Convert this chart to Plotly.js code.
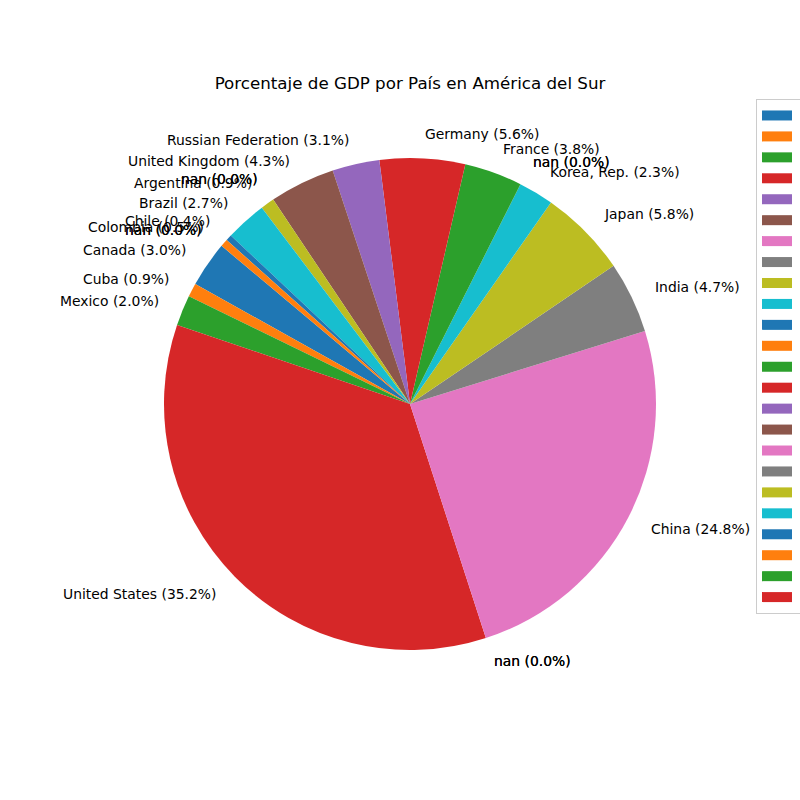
<!DOCTYPE html>
<html>
<head>
<meta charset="utf-8">
<script src="https://cdn.plot.ly/plotly-3.0.1.min.js"></script>
<style>html,body{margin:0;padding:0;background:#fff;}</style>
</head>
<body>
<div id="chart" style="width:800px;height:800px;"></div>
<script>
// Data (order as drawn, counterclockwise from start angle 140°)
const countries = ["Canada", "Cuba", "Mexico", "United States", "nan", "nan",
  "China", "India", "Japan", "Korea, Rep.", "nan", "nan",
  "France", "Germany", "Russian Federation", "United Kingdom", "nan", "nan",
  "Argentina", "Brazil", "Chile", "Colombia", "nan", "nan"];
const gdpShare = [3.0, 0.9, 2.0, 35.2, 0.0, 0.0,
  24.8, 4.7, 5.8, 2.3, 0.0, 0.0,
  3.8, 5.6, 3.1, 4.3, 0.0, 0.0,
  0.9, 2.7, 0.4, 0.5, 0.0, 0.0];

// Style / layout constants
const palette = ["#1f77b4", "#ff7f0e", "#2ca02c", "#d62728", "#9467bd",
  "#8c564b", "#e377c2", "#7f7f7f", "#bcbd22", "#17becf"];
const W = 800, H = 800;
const cx = 410, cy = 404, R = 246;
const startAngle = 140; // degrees, math convention
const FONT = "DejaVu Sans, sans-serif";

const total = gdpShare.reduce((a, b) => a + b, 0);
const colors = countries.map((_, i) => palette[i % 10]);
const ids = countries.map((_, i) => "s" + i);

// Plotly: first slice (counterclockwise) spans [rotation, rotation + v0] clockwise from 12 o'clock
const rotation = (90 - startAngle) - 360 * gdpShare[0] / total;

const traces = [{
  type: "pie",
  labels: ids,
  values: gdpShare,
  sort: false,
  direction: "counterclockwise",
  rotation: rotation,
  marker: {colors: colors, line: {width: 0}},
  textinfo: "none",
  hoverinfo: "none",
  showlegend: false,
  domain: {x: [(cx - R) / W, (cx + R) / W], y: [1 - (cy + R) / H, 1 - (cy - R) / H]}
}];

// legend swatches
countries.forEach((c, i) => {
  traces.push({
    type: "scatter", mode: "lines", x: [null], y: [null],
    name: " ", line: {color: colors[i], width: 10}, hoverinfo: "none", showlegend: true
  });
});

// labels outside (matplotlib style, labeldistance 1.1)
const annotations = [];
let cum = 0;
gdpShare.forEach((v, i) => {
  const mid = (startAngle + 360 * (cum + v / 2) / total) * Math.PI / 180;
  cum += v;
  const xt = cx + 1.1 * R * Math.cos(mid);
  const yt = cy - 1.1 * R * Math.sin(mid);
  annotations.push({
    xref: "paper", yref: "paper",
    x: xt / W, y: 1 - yt / H,
    xanchor: Math.cos(mid) > 0 ? "left" : "right",
    yanchor: "middle",
    showarrow: false,
    borderpad: 0,
    text: countries[i] + " (" + (100 * v / total).toFixed(1) + "%)",
    font: {family: FONT, size: 13.9, color: "#000"}
  });
});

const layout = {
  width: W, height: H,
  margin: {l: 0, r: 0, t: 0, b: 0, autoexpand: false},
  paper_bgcolor: "#fff", plot_bgcolor: "rgba(0,0,0,0)",
  title: {
    text: "Porcentaje de GDP por País en América del Sur",
    font: {family: FONT, size: 16.7, color: "#000"},
    x: 410 / W, xanchor: "center", xref: "paper",
    y: 1 - 83 / H, yanchor: "middle", yref: "paper"
  },
  xaxis: {visible: false}, yaxis: {visible: false},
  showlegend: true,
  legend: {
    x: 756 / W, xanchor: "left", y: 1 - 99 / H, yanchor: "top",
    bgcolor: "#fff", bordercolor: "#cccccc", borderwidth: 1,
    font: {family: FONT, size: 13.8, color: "#000"},
    itemwidth: 30, tracegroupgap: 0
  },
  annotations: annotations
};

Plotly.newPlot("chart", traces, layout, {displayModeBar: false, staticPlot: true});
</script>
</body>
</html>
